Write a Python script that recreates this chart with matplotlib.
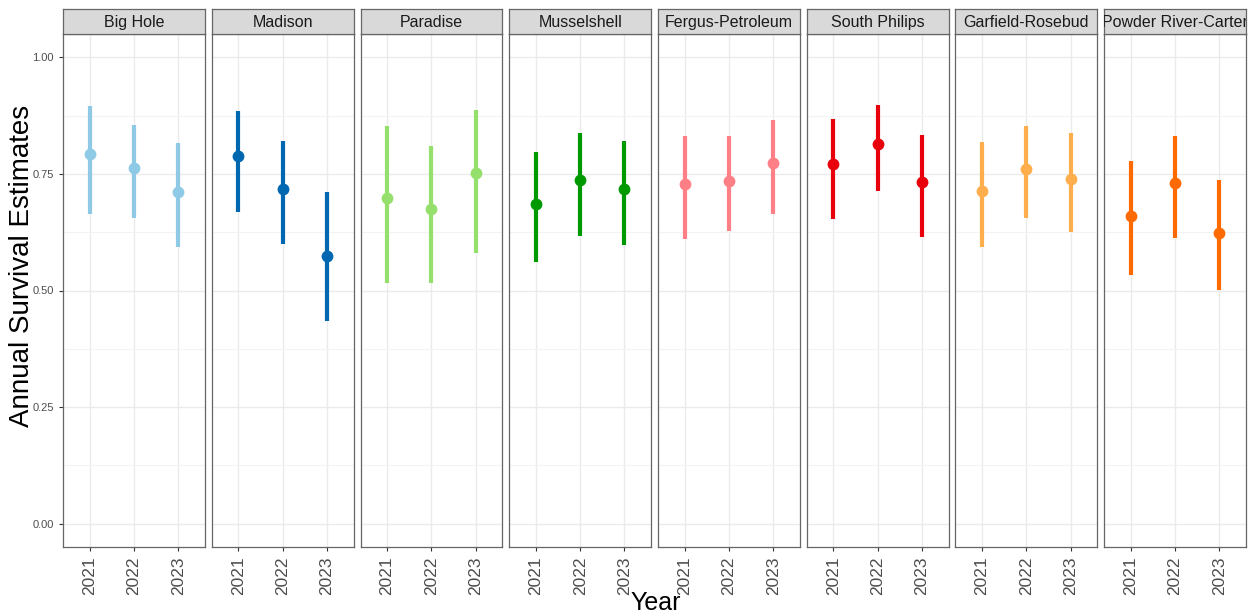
import matplotlib
matplotlib.use("Agg")
import matplotlib.pyplot as plt
from matplotlib.ticker import MultipleLocator, FormatStrFormatter
import numpy as np

plt.rcParams['font.family'] = ['Liberation Sans', 'DejaVu Sans']

regions = ["Big Hole", "Madison", "Paradise", "Musselshell", "Fergus-Petroleum",
           "South Philips", "Garfield-Rosebud", "Powder River-Carter"]
years = ["2021", "2022", "2023"]
colors = ["#8ecae6", "#0067b1", "#95e06c", "#009a00", "#ff7f86",
          "#e8000b", "#ffae4d", "#ff6a00"]

est_big_hole = [0.792, 0.762, 0.711]
lo_big_hole = [0.664, 0.655, 0.593]
hi_big_hole = [0.895, 0.854, 0.816]

est_madison = [0.788, 0.717, 0.574]
lo_madison = [0.668, 0.600, 0.435]
hi_madison = [0.884, 0.820, 0.711]

est_paradise = [0.698, 0.675, 0.752]
lo_paradise = [0.516, 0.516, 0.580]
hi_paradise = [0.852, 0.809, 0.886]

est_musselshell = [0.685, 0.737, 0.717]
lo_musselshell = [0.561, 0.617, 0.597]
hi_musselshell = [0.797, 0.837, 0.820]

est_fergus = [0.728, 0.734, 0.773]
lo_fergus = [0.610, 0.627, 0.664]
hi_fergus = [0.831, 0.831, 0.865]

est_south_philips = [0.771, 0.814, 0.732]
lo_south_philips = [0.653, 0.713, 0.615]
hi_south_philips = [0.867, 0.897, 0.833]

est_garfield = [0.713, 0.760, 0.739]
lo_garfield = [0.593, 0.655, 0.625]
hi_garfield = [0.818, 0.852, 0.837]

est_powder = [0.660, 0.730, 0.623]
lo_powder = [0.533, 0.612, 0.501]
hi_powder = [0.777, 0.831, 0.737]

estimates = [est_big_hole, est_madison, est_paradise, est_musselshell,
             est_fergus, est_south_philips, est_garfield, est_powder]
lowers = [lo_big_hole, lo_madison, lo_paradise, lo_musselshell,
          lo_fergus, lo_south_philips, lo_garfield, lo_powder]
uppers = [hi_big_hole, hi_madison, hi_paradise, hi_musselshell,
          hi_fergus, hi_south_philips, hi_garfield, hi_powder]

W, H = 1255, 616
fig = plt.figure(figsize=(W / 100, H / 100), dpi=100)

left_px, right_px = 63, 1246
top_px, bottom_px = 34, 547
gap_px = 7.0
n = len(regions)
pw = (right_px - left_px - gap_px * (n - 1)) / n
strip_top = 9

border_col = "#666666"
grid_col = "#ebebeb"

for i, reg in enumerate(regions):
    x0 = left_px + i * (pw + gap_px)
    ax = fig.add_axes([x0 / W, 1 - bottom_px / H, pw / W, (bottom_px - top_px) / H])
    xs = np.arange(1, len(years) + 1)
    est = np.array(estimates[i])
    lo = np.array(lowers[i])
    hi = np.array(uppers[i])
    ax.vlines(xs, lo, hi, color=colors[i], linewidth=3.0, zorder=3)
    ax.plot(xs, est, 'o', color=colors[i], markersize=8.5, zorder=4, markeredgewidth=0)
    ax.set_xlim(0.4, 3.6)
    ax.set_ylim(-0.05, 1.05)
    ax.set_xticks(xs)
    ax.set_xticklabels(years, rotation=90, fontsize=12.5, color="#4d4d4d")
    ax.yaxis.set_major_locator(MultipleLocator(0.25))
    ax.yaxis.set_minor_locator(MultipleLocator(0.125))
    ax.grid(True, which='major', color=grid_col, linewidth=1.0, zorder=0)
    ax.grid(True, which='minor', axis='y', color="#f3f3f3", linewidth=0.8, zorder=0)
    ax.set_axisbelow(True)
    ax.tick_params(axis='y', which='minor', length=0)
    ax.tick_params(axis='both', which='major', length=3, color="#333333", width=0.8)
    if i == 0:
        ax.yaxis.set_major_formatter(FormatStrFormatter('%.2f'))
        ax.tick_params(axis='y', labelsize=8, labelcolor="#4d4d4d")
    else:
        ax.tick_params(axis='y', which='both', left=False, labelleft=False)
    for sp in ax.spines.values():
        sp.set_color(border_col)
        sp.set_linewidth(0.9)

    sax = fig.add_axes([x0 / W, 1 - top_px / H, pw / W, (top_px - strip_top) / H])
    sax.set_facecolor("#d9d9d9")
    sax.set_xticks([])
    sax.set_yticks([])
    for sp in sax.spines.values():
        sp.set_color(border_col)
        sp.set_linewidth(0.9)
    sax.text(0.5, 0.45, reg, ha='center', va='center', fontsize=11.5,
             color="#1a1a1a", transform=sax.transAxes, clip_on=True)

fig.text(22 / W, 1 - 266 / H, "Annual Survival Estimates", rotation=90,
         ha='center', va='center', fontsize=20)
fig.text(656 / W, 1 - 603 / H, "Year", ha='center', va='center', fontsize=18)

fig.savefig("out.png", dpi=100)
